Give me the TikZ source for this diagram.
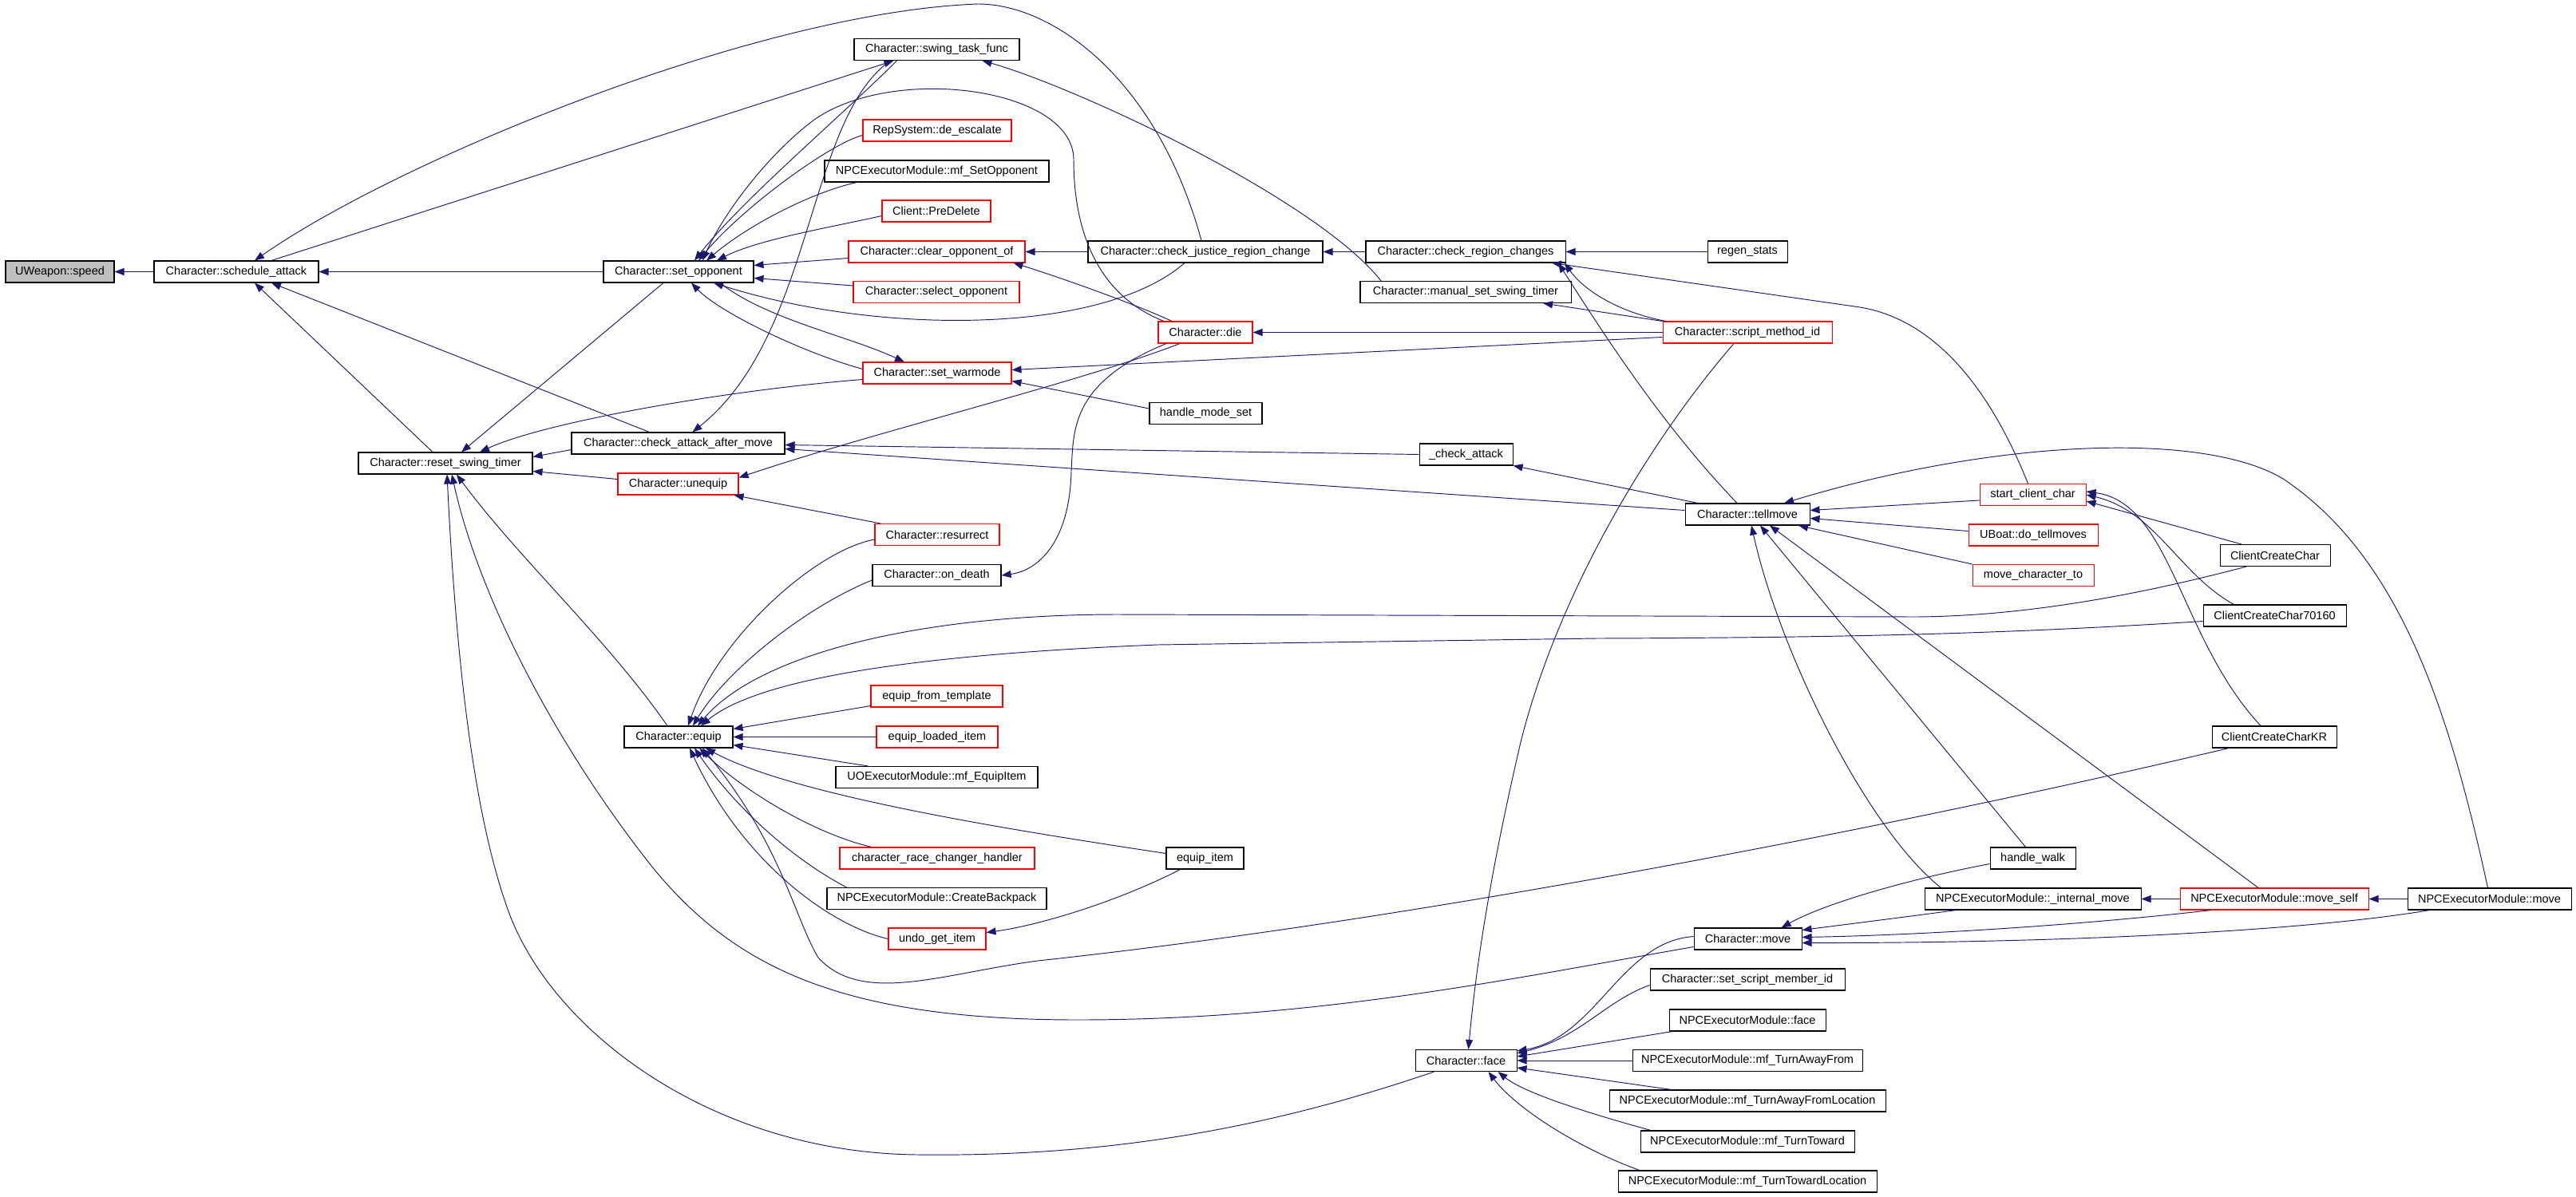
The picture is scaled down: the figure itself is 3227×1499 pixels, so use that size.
\documentclass[tikz,border=0pt]{standalone}
\usepackage{fontspec}
\setmainfont{Liberation Sans}
\usetikzlibrary{arrows.meta}
\definecolor{edgec}{HTML}{191970}
\definecolor{boxred}{HTML}{FF0000}
\definecolor{boxgray}{HTML}{BFBFBF}
\tikzset{
  fn/.style={draw=black, line width=1.05pt, fill=white, minimum height=27pt, inner sep=0pt, font=\fontsize{14.5}{16}\selectfont, text=black},
  fnred/.style={fn, draw=boxred},
  fngray/.style={fn, fill=boxgray},
  call/.style={draw=edgec, line width=0.95pt, -{Triangle[length=12pt,width=9pt]}},
}
\begin{document}
\begin{tikzpicture}[x=1pt,y=-1pt]
\useasboundingbox (0,0) rectangle (3227,1499);
\fill[white] (0,0) rectangle (3227,1499);
% nodes
\node[fngray, minimum width=136] (A) at (75,340.5) {UWeapon::speed};
\node[fn, minimum width=206] (B) at (296,340.5) {Character::schedule\_attack};
\node[fn, minimum width=188] (C) at (850,340.5) {Character::set\_opponent};
\node[fn, minimum width=207] (D) at (1173.5,62) {Character::swing\_task\_func};
\node[fnred, minimum width=186] (E) at (1174,163.5) {RepSystem::de\_escalate};
\node[fn, minimum width=281] (F) at (1173.5,214.5) {NPCExecutorModule::mf\_SetOpponent};
\node[fnred, minimum width=136] (G) at (1173,264.5) {Client::PreDelete};
\node[fnred, minimum width=221] (H) at (1173.5,315.5) {Character::clear\_opponent\_of};
\node[fnred, minimum width=208] (I) at (1173,366) {Character::select\_opponent};
\node[fn, minimum width=294] (J) at (1510,315.5) {Character::check\_justice\_region\_change};
\node[fn, minimum width=250] (K) at (1836,315.5) {Character::check\_region\_changes};
\node[fn, minimum width=264] (L) at (1836,366) {Character::manual\_set\_swing\_timer};
\node[fnred, minimum width=118] (M) at (1510,416.5) {Character::die};
\node[fnred, minimum width=186] (N) at (1174,467.5) {Character::set\_warmode};
\node[fn, minimum width=141] (O) at (1510.5,518) {handle\_mode\_set};
\node[fn, minimum width=100] (P) at (2189,315.5) {regen\_stats};
\node[fnred, minimum width=212] (Q) at (2189,416.5) {Character::script\_method\_id};
\node[fn, minimum width=218] (R) at (558,580.5) {Character::reset\_swing\_timer};
\node[fn, minimum width=267] (S) at (849.5,555.5) {Character::check\_attack\_after\_move};
\node[fnred, minimum width=151] (T) at (849.5,606.5) {Character::unequip};
\node[fnred, minimum width=156] (U) at (1174,670) {Character::resurrect};
\node[fn, minimum width=161] (V) at (1173.5,721) {Character::on\_death};
\node[fn, minimum width=117] (W) at (1836.5,569.5) {\_check\_attack};
\node[fn, minimum width=156] (X) at (2189,644.5) {Character::tellmove};
\node[fnred, minimum width=133] (Y) at (2546.5,620) {start\_client\_char};
\node[fnred, minimum width=162] (Z) at (2547,670.5) {UBoat::do\_tellmoves};
\node[fnred, minimum width=152] (AA) at (2547,721) {move\_character\_to};
\node[fn, minimum width=138] (AB) at (2850,696) {ClientCreateChar};
\node[fn, minimum width=179] (AC) at (2849.5,771.5) {ClientCreateChar70160};
\node[fn, minimum width=156] (AD) at (2849,923.5) {ClientCreateCharKR};
\node[fn, minimum width=136] (AE) at (850,923.5) {Character::equip};
\node[fnred, minimum width=165] (AF) at (1173.5,872.5) {equip\_from\_template};
\node[fnred, minimum width=152] (AG) at (1174,923.5) {equip\_loaded\_item};
\node[fn, minimum width=253] (AH) at (1173.5,974) {UOExecutorModule::mf\_EquipItem};
\node[fn, minimum width=97] (AI) at (1509.5,1075.5) {equip\_item};
\node[fnred, minimum width=244] (AJ) at (1174,1075.5) {character\_race\_changer\_handler};
\node[fn, minimum width=275] (AK) at (1173.5,1126) {NPCExecutorModule::CreateBackpack};
\node[fnred, minimum width=122] (AL) at (1174,1176.5) {undo\_get\_item};
\node[fn, minimum width=135] (AM) at (2189.5,1176.5) {Character::move};
\node[fn, minimum width=107] (AN) at (2546.5,1075.5) {handle\_walk};
\node[fn, minimum width=271] (AO) at (2546.5,1126.5) {NPCExecutorModule::\_internal\_move};
\node[fnred, minimum width=236] (AP) at (2849,1126.5) {NPCExecutorModule::move\_self};
\node[fn, minimum width=205] (AQ) at (3118.5,1126.5) {NPCExecutorModule::move};
\node[fn, minimum width=127] (AR) at (1836.5,1329) {Character::face};
\node[fn, minimum width=244] (AS) at (2189,1227.5) {Character::set\_script\_member\_id};
\node[fn, minimum width=196] (AT) at (2189,1278.5) {NPCExecutorModule::face};
\node[fn, minimum width=288] (AU) at (2189,1329) {NPCExecutorModule::mf\_TurnAwayFrom};
\node[fn, minimum width=346] (AV) at (2189,1379.5) {NPCExecutorModule::mf\_TurnAwayFromLocation};
\node[fn, minimum width=268] (AW) at (2189,1430.5) {NPCExecutorModule::mf\_TurnToward};
\node[fn, minimum width=324] (AX) at (2189,1480.5) {NPCExecutorModule::mf\_TurnTowardLocation};
% edges
\draw[call] (B.west) -- (A.east);
\draw[call] (C.west) -- (B.east);
\draw[call] ([xshift=-5]J.north) .. controls (1450,100) and (1320,5) .. (1225,5) .. controls (950,15) and (500,200) .. ([xshift=23]B.north);
\draw[call] ([xshift=44]B.north) -- ([xshift=-54]D.south);
\draw[call] ([xshift=-16]R.north) -- ([xshift=23]B.south);
\draw[call] ([xshift=-36]S.north) -- ([xshift=44]B.south);
\draw[call] ([xshift=-50]D.south) .. controls (1060,140) and (930,250) .. ([xshift=20]C.north);
\draw[call] ([xshift=-58]D.south) .. controls (1010,150) and (1020,420) .. ([xshift=18]S.north);
\draw[call] ([xshift=-106]L.north) .. controls (1650,250) and (1350,110) .. ([xshift=57]D.south);
\draw[call] ([yshift=-6]E.west) .. controls (1040,180) and (930,260) .. ([xshift=25]C.north);
\draw[call] ([xshift=-100]F.south) .. controls (1020,240) and (940,280) .. ([xshift=35]C.north);
\draw[call] ([yshift=-6]G.west) .. controls (1040,285) and (950,300) .. ([xshift=48]C.north);
\draw[call] ([yshift=-8]H.west) -- ([yshift=8]C.east);
\draw[call] ([yshift=8]I.west) -- ([yshift=-8]C.east);
\draw[call] ([xshift=-52]M.north) .. controls (1375,370) and (1345,290) .. (1345,200) .. controls (1345,110) and (1120,80) .. (1020,150) .. controls (960,195) and (905,270) .. ([xshift=30]C.north);
\draw[call] ([xshift=-26]J.south) .. controls (1380,420) and (1100,420) .. ([xshift=44]C.south);
\draw[call] ([yshift=5]N.west) .. controls (1000,440) and (900,390) .. ([xshift=16]C.south);
\draw[call] ([xshift=52]C.south) .. controls (960,400) and (1060,420) .. ([xshift=-41]N.north);
\draw[call] ([xshift=-19]C.south) -- ([xshift=20]R.north);
\draw[call] ([yshift=-8]N.west) .. controls (900,490) and (680,530) .. ([xshift=43]R.north);
\draw[call] ([yshift=-8]S.west) -- ([yshift=8]R.east);
\draw[call] ([yshift=6]T.west) -- ([yshift=-10]R.east);
\draw[call] ([xshift=-14]AE.north) .. controls (760,800) and (650,700) .. ([xshift=14]R.south);
\draw[call] ([yshift=-10]AM.west) .. controls (1900,1225) and (1650,1278) .. (1350,1278) .. controls (1050,1278) and (920,1210) .. (820,1090) .. controls (700,940) and (600,750) .. ([xshift=8]R.south);
\draw[call] ([xshift=-40]AR.south) .. controls (1600,1410) and (1400,1450) .. (1150,1447) .. controls (900,1445) and (700,1300) .. (640,1150) .. controls (590,1020) and (570,800) .. ([xshift=2]R.south);
\draw[call] (W.west) -- ([yshift=-2]S.east);
\draw[call] ([yshift=5]X.west) -- ([yshift=-7]S.east);
\draw[call] ([xshift=-32]M.south) .. controls (1350,480) and (1100,540) .. ([yshift=8]T.east);
\draw[call] ([xshift=-71]U.north) -- ([xshift=70]T.south);
\draw[call] (J.west) -- (H.east);
\draw[call] ([xshift=-42]M.north) .. controls (1420,380) and (1320,345) .. ([xshift=96]H.south);
\draw[call] (Q.west) -- (M.east);
\draw[call] ([xshift=-49]M.south) .. controls (1340,480) and (1345,540) .. (1342,590) .. controls (1340,680) and (1300,715) .. (V.east);
\draw[call] ([yshift=-6]Q.west) -- ([yshift=4]N.east);
\draw[call] ([yshift=6]O.west) -- ([yshift=-10]N.east);
\draw[call] (K.west) -- (J.east);
\draw[call] (P.west) -- (K.east);
\draw[call] ([xshift=-6]Y.north) .. controls (2490,480) and (2420,400) .. (2330,385) -- ([xshift=108]K.south);
\draw[call] ([xshift=-102]Q.north) .. controls (2030,392) and (1985,365) .. ([xshift=124]K.south);
\draw[call] ([xshift=-13]X.north) .. controls (2080,530) and (2010,420) .. ([xshift=116]K.south);
\draw[call] (Q.north west) -- ([xshift=97]L.south);
\draw[call] ([xshift=-17]Q.south) .. controls (2060,560) and (1950,750) .. (1905,930) .. controls (1870,1080) and (1850,1200) .. ([xshift=3]AR.north);
\draw[call] ([yshift=-7]Y.west) -- ([yshift=5]X.east);
\draw[call] ([yshift=5]Z.west) -- ([yshift=-5]X.east);
\draw[call] (AA.north west) -- ([xshift=64]X.south);
\draw[call] ([xshift=-2]AQ.north) .. controls (3070,900) and (3010,700) .. (2860,600) .. controls (2760,540) and (2500,550) .. ([xshift=46]X.north);
\draw[call] ([xshift=-115]AO.north) .. controls (2340,1040) and (2230,820) .. ([xshift=5]X.south);
\draw[call] ([xshift=-9]AN.north) -- ([xshift=16]X.south);
\draw[call] ([xshift=-20]AP.north) -- ([xshift=28]X.south);
\draw[call] ([xshift=-62]X.north) -- (W.south east);
\draw[call] ([xshift=-42]AB.north) -- ([yshift=-8]Y.east);
\draw[call] ([xshift=-51]AC.north) .. controls (2730,720) and (2700,640) .. (Y.east);
\draw[call] ([xshift=-17]AD.north) .. controls (2730,800) and (2720,630) .. ([yshift=4]Y.east);
\draw[call] ([xshift=-36]AB.south) .. controls (2700,740) and (2550,772) .. (2400,773) -- (1400,770) .. controls (1150,770) and (950,820) .. ([xshift=24]AE.north);
\draw[call] ([yshift=-7]AC.west) .. controls (2500,795) and (2300,799) .. (2000,800) -- (1450,808) .. controls (1150,820) and (950,850) .. ([xshift=28]AE.north);
\draw[call] ([xshift=-57]AD.south) .. controls (2400,1030) and (1800,1150) .. (1300,1204) .. controls (1180,1220) and (1080,1260) .. (1025,1200) .. controls (995,1150) and (980,1060) .. ([xshift=30]AE.south);
\draw[call] ([yshift=-12]AF.west) -- ([yshift=10]AE.east);
\draw[call] (AG.west) -- (AE.east);
\draw[call] ([xshift=-86]AH.north) -- ([yshift=-10]AE.east);
\draw[call] ([yshift=6]AI.west) .. controls (1300,1045) and (1000,1000) .. ([xshift=34]AE.south);
\draw[call] ([xshift=-82]AJ.north) .. controls (1020,1045) and (930,990) .. ([xshift=26]AE.south);
\draw[call] ([xshift=-113]AK.north) .. controls (990,1075) and (920,1010) .. ([xshift=20]AE.south);
\draw[call] (AL.west) .. controls (1040,1160) and (930,1080) .. ([xshift=14]AE.south);
\draw[call] ([yshift=-6]U.west) .. controls (1020,690) and (900,800) .. ([xshift=12]AE.north);
\draw[call] ([yshift=-6]V.west) .. controls (1010,760) and (910,840) .. ([xshift=18]AE.north);
\draw[call] ([xshift=-31]AI.south) .. controls (1400,1130) and (1300,1160) .. ([yshift=8]AL.east);
\draw[call] ([yshift=-7]AN.west) .. controls (2400,1100) and (2290,1130) .. ([xshift=42]AM.north);
\draw[call] ([xshift=-96]AO.south) .. controls (2380,1150) and (2300,1160) .. ([yshift=11]AM.east);
\draw[call] ([xshift=-79]AP.south) .. controls (2600,1160) and (2400,1172) .. ([yshift=2]AM.east);
\draw[call] ([xshift=-75]AQ.south) .. controls (2900,1165) and (2600,1182) .. ([yshift=-5]AM.east);
\draw[call] (AP.west) -- (AO.east);
\draw[call] (AQ.west) -- (AP.east);
\draw[call] ([yshift=3]AM.west) .. controls (2030,1180) and (2000,1300) .. ([yshift=12]AR.east);
\draw[call] ([yshift=-7]AS.west) .. controls (2010,1255) and (1980,1300) .. ([yshift=9]AR.east);
\draw[call] ([xshift=-94]AT.south) -- ([yshift=5]AR.east);
\draw[call] (AU.west) -- (AR.east);
\draw[call] ([xshift=-95]AV.north) -- ([yshift=-9]AR.east);
\draw[call] ([xshift=-121]AW.north) .. controls (1990,1395) and (1910,1370) .. ([xshift=40]AR.south);
\draw[call] ([xshift=-135]AX.north) .. controls (1980,1440) and (1900,1390) .. ([xshift=28]AR.south);
\end{tikzpicture}
\end{document}
